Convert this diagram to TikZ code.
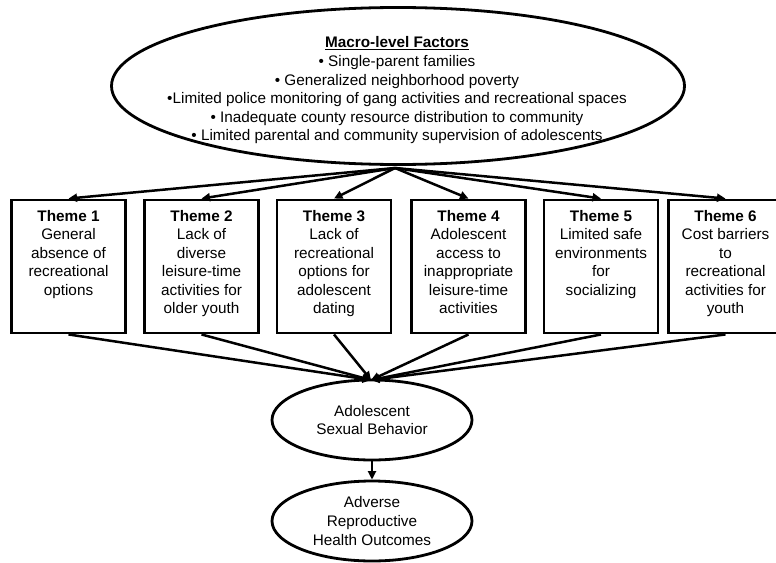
\documentclass[tikz,border=0pt]{standalone}
\usepackage{fontspec}
\setmainfont{Liberation Sans}
\usetikzlibrary{shapes.geometric,arrows.meta}
\tikzset{
  lw/.style={line width=2.8pt},
  txt/.style={align=center,inner sep=0pt,font=\fontsize{15.3}{18.6}\selectfont},
  bigell/.style={ellipse,draw,lw,inner sep=0pt,txt},
  themebox/.style={rectangle,draw,line width=2.9pt,inner sep=3pt,font=\fontsize{15.3}{18.4}\selectfont},
  conn/.style={line width=2.5pt,-{Triangle[length=8.5pt,width=8pt]}},
}
\newcommand{\tbox}[1]{\parbox[c][127pt][t]{108pt}{\centering\vspace*{7.5pt}#1}}
\begin{document}
\begin{tikzpicture}[x=1pt,y=-1pt]
\useasboundingbox (0,0) rectangle (776,562);
\clip (0,0) rectangle (776,562);
\node[bigell,minimum width=573,minimum height=157] (macro) at (398,86) {};
\node[txt] (macrotext) at (397,90.5)
 {\underline{\textbf{Macro-level Factors}}\\
  • Single-parent families\\
  • Generalized neighborhood poverty\\
  •Limited police monitoring of gang activities and recreational spaces\\
  • Inadequate county resource distribution to community\\
  • Limited parental and community supervision of adolescents};
\node[themebox] (t1) at (68.5,266.5) {\tbox{\textbf{Theme 1}\\General\\absence of\\recreational\\options}};
\node[themebox] (t2) at (201.5,266.5) {\tbox{\textbf{Theme 2}\\Lack of\\diverse\\leisure-time\\activities for\\older youth}};
\node[themebox] (t3) at (334,266.5) {\tbox{\textbf{Theme 3}\\Lack of\\recreational\\options for\\adolescent\\dating}};
\node[themebox] (t4) at (468.5,266.5) {\tbox{\textbf{Theme 4}\\Adolescent\\access to\\inappropriate\\leisure-time\\activities}};
\node[themebox] (t5) at (601,266.5) {\tbox{\textbf{Theme 5}\\Limited safe\\environments\\for\\socializing}};
\node[themebox] (t6) at (725.5,266.5) {\tbox{\textbf{Theme 6}\\Cost barriers\\to\\recreational\\activities for\\youth}};
\node[bigell,minimum width=200,minimum height=80] (asb) at (372,420) {Adolescent\\Sexual Behavior};
\node[bigell,minimum width=200,minimum height=80] (aro) at (372,521) {Adverse\\Reproductive\\Health Outcomes};
\coordinate (hub) at (395,168);
\coordinate (sink) at (371,380);
\foreach \t in {t1,t2,t3,t4,t5,t6}{
  \draw[conn] (hub) -- (\t.north);
  \draw[conn] (\t.south) -- (sink);
}
\draw[conn] (asb.south) -- (aro.north);
\end{tikzpicture}
\end{document}
